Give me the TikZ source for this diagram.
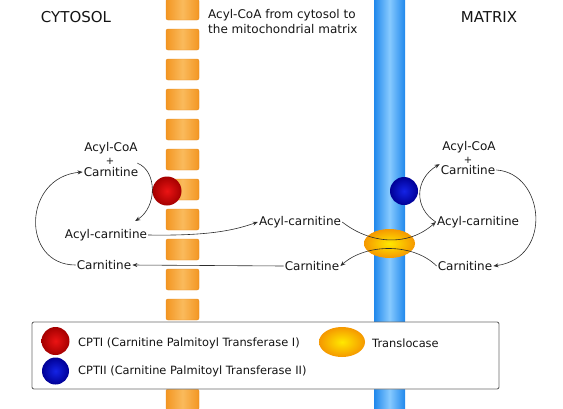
\documentclass[tikz,border=0pt]{standalone}
\usepackage{fontspec}
\setmainfont{DejaVu Sans}
\usetikzlibrary{arrows.meta,positioning,calc,shapes.geometric}
\definecolor{inkText}{RGB}{20,20,20}
\definecolor{inkArrow}{RGB}{45,45,45}
\definecolor{blockEdge}{RGB}{243,150,34}
\definecolor{blockMid}{RGB}{250,186,92}
\definecolor{blockLine}{RGB}{228,136,28}
\definecolor{memEdge}{RGB}{32,136,236}
\definecolor{memMid}{RGB}{135,202,255}
\definecolor{keyRule}{RGB}{105,105,105}
\definecolor{cptOneIn}{RGB}{235,20,20}
\definecolor{cptOneOut}{RGB}{165,0,0}
\definecolor{cptTwoIn}{RGB}{20,35,230}
\definecolor{cptTwoOut}{RGB}{0,0,150}
\definecolor{transIn}{RGB}{255,232,0}
\definecolor{transOut}{RGB}{245,152,0}

\begin{document}
\begin{tikzpicture}[x=1pt,y=-1pt,
    lbl/.style={inner sep=1pt, text=inkText, font=\fontsize{12}{12}\selectfont},
    plussign/.style={inner sep=0.5pt, text=inkText, font=\fontsize{10}{10}\selectfont},
    region/.style={inner sep=1pt, text=inkText, font=\fontsize{15}{15}\selectfont},
    keytext/.style={inner sep=1pt, anchor=west, text=inkText, font=\fontsize{11.4}{12}\selectfont},
    flow/.style={draw=inkArrow, line width=0.6pt, -{Stealth[length=5pt,width=4pt]}},
    block/.style={draw=blockLine, line width=0.4pt, rounded corners=2pt,
        left color=blockEdge, right color=blockEdge, middle color=blockMid},
    cptone/.style={circle, minimum size=29pt, inner sep=0pt, inner color=cptOneIn, outer color=cptOneOut},
    cpttwo/.style={circle, minimum size=28pt, inner sep=0pt, inner color=cptTwoIn, outer color=cptTwoOut},
    transloc/.style={ellipse, minimum width=51pt, minimum height=29pt, inner sep=0pt,
        inner color=transIn, outer color=transOut},
    keybox/.style={draw=keyRule, line width=0.9pt, rounded corners=2pt, fill=white}]
\useasboundingbox (0,0) rectangle (563,408);

% outer membrane (blocks) and inner membrane
\foreach \k in {0,...,13}
    \draw[block] (166,30*\k-1) rectangle (199,30*\k+20);
\fill[left color=memEdge, right color=memEdge, middle color=memMid] (374,-2) rectangle (405,410);

% enzymes
\node[cptone] (cptI) at (167,191) {};
\node[cpttwo] (cptII) at (404,191) {};
\node[transloc] (transloc) at (389.5,243.5) {};

% headings
\node[region] (cytosol) at (76,17) {CYTOSOL};
\node[region] (matrix) at (489,17) {MATRIX};
\node[lbl, align=left, anchor=west, font=\fontsize{12}{15}\selectfont] (caption) at (207,22)
    {Acyl-CoA from cytosol to\\the mitochondrial matrix};

% cytosol side
\node[lbl] (acylcoaL) at (111,148) {Acyl-CoA};
\node[plussign] (plusL) at (110,161) {+};
\node[lbl] (carnTopL) at (111,172) {Carnitine};
\node[lbl] (acylcarnL) at (106,235) {Acyl-carnitine};
\node[lbl] (carnL) at (104,265) {Carnitine};

% between the membranes
\node[lbl] (acylcarnM) at (300,222) {Acyl-carnitine};
\node[lbl] (carnM) at (312,266) {Carnitine};

% matrix side
\node[lbl] (acylcoaR) at (469,147) {Acyl-CoA};
\node[plussign] (plusR) at (468,160) {+};
\node[lbl] (carnTopR) at (468,170) {Carnitine};
\node[lbl] (acylcarnR) at (478,222) {Acyl-carnitine};
\node[lbl] (carnR) at (465,266) {Carnitine};

% reactions and transport
\draw[flow] ([xshift=-2pt,yshift=3pt]carnTopL.north east) .. controls +(20,8) and +(22,-14) .. ([xshift=-13pt,yshift=7pt]acylcarnL.north east);
\draw[flow] (carnL.west) .. controls +(-55,0) and +(-60,5) .. (carnTopL.west);
\draw[flow] (acylcarnL.east) .. controls +(62,1) and +(-23,8) .. (acylcarnM.west);
\draw[flow] (carnM.west) -- (carnL.east);
\draw[flow] (acylcarnM.east) .. controls +(28,22) and +(-28,25) .. (acylcarnR.west);
\draw[flow] (carnR.west) .. controls +(-23,-23) and +(26,-23) .. (carnM.east);
\draw[flow] (acylcarnR.west) .. controls +(-22,-14) and +(-25,15) .. (carnTopR.north west);
\draw[flow] (carnTopR.east) .. controls +(48,3) and +(60,-8) .. (carnR.east);

% key
\draw[keybox] (32,322) rectangle (499,389);
\node[cptone, minimum size=28pt] (keyOne) at (55.5,341) {};
\node[cpttwo, minimum size=27pt] (keyTwo) at (55.5,371) {};
\node[keytext] (keyOneTxt) at (77,343) {CPTI (Carnitine Palmitoyl Transferase I)};
\node[keytext] (keyTwoTxt) at (77,371) {CPTII (Carnitine Palmitoyl Transferase II)};
\node[transloc, minimum width=46pt, minimum height=30pt] (keyTrans) at (342,342) {};
\node[keytext] (keyTransTxt) at (371,343) {Translocase};
\end{tikzpicture}
\end{document}
